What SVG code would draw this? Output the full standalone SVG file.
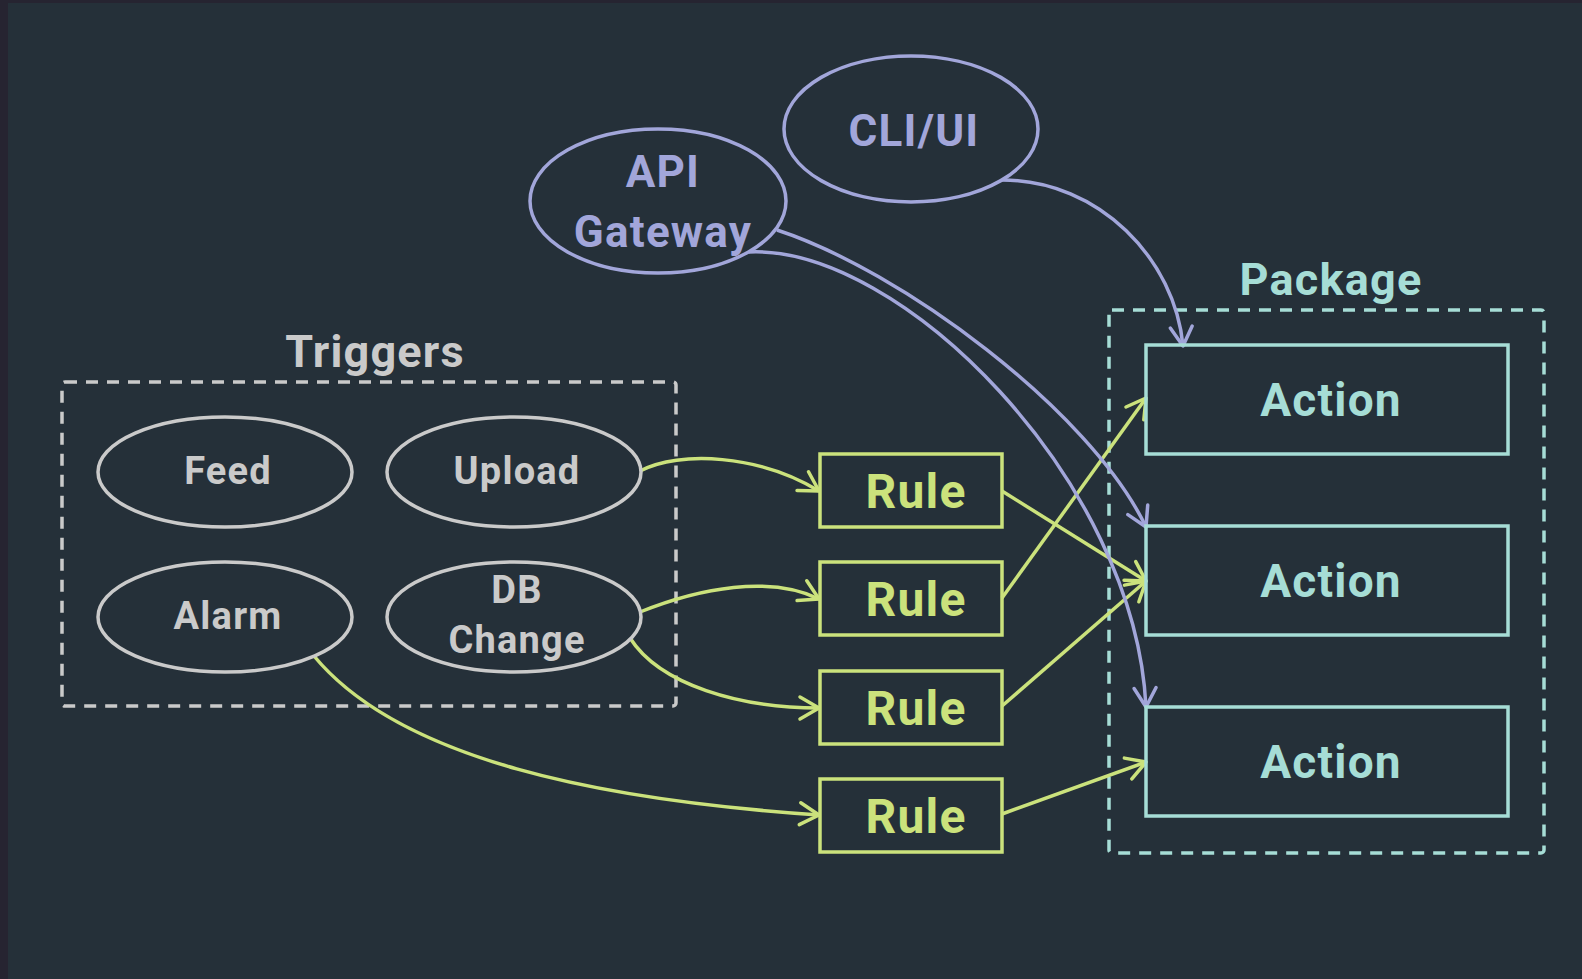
<svg xmlns="http://www.w3.org/2000/svg" width="1582" height="979" viewBox="0 0 1582 979">
  <style>
    .lbl { font-family: Roboto, "Liberation Sans", sans-serif; font-weight: 700; text-anchor: middle; letter-spacing: 1.2px; }
    .trig { fill: none; stroke: #cacaca; stroke-width: 3.5; }
    .trig-t { fill: #cacaca; font-size: 38px; }
    .ent { fill: none; stroke: #a2a6da; stroke-width: 3.5; }
    .ent-t { fill: #a2a6da; font-size: 44px; }
    .rule { fill: none; stroke: #cbe27c; stroke-width: 3.5; }
    .rule-t { fill: #cbe27c; font-size: 48px; }
    .act { fill: none; stroke: #a6ddd6; stroke-width: 3.5; }
    .act-t { fill: #a6ddd6; font-size: 46px; }
    .grp { fill: none; stroke-width: 3.5; stroke-dasharray: 12 9; }
    .g-edge { fill: none; stroke: #cbe27c; stroke-width: 3.5; marker-end: url(#arrG); }
    .p-edge { fill: none; stroke: #a2a6da; stroke-width: 3.5; marker-end: url(#arrP); }
  </style>
  <defs>
    <marker id="arrG" markerUnits="userSpaceOnUse" markerWidth="30" markerHeight="30" viewBox="-22 -15 26 30" refX="0" refY="0" orient="auto">
      <path d="M -19 -11 L 0 0 L -19 11" fill="none" stroke="#cbe27c" stroke-width="3.5" stroke-linecap="round" stroke-linejoin="round"/>
    </marker>
    <marker id="arrP" markerUnits="userSpaceOnUse" markerWidth="30" markerHeight="30" viewBox="-22 -15 26 30" refX="0" refY="0" orient="auto">
      <path d="M -19 -11 L 0 0 L -19 11" fill="none" stroke="#a2a6da" stroke-width="3.5" stroke-linecap="round" stroke-linejoin="round"/>
    </marker>
  </defs>

  <!-- frame and canvas -->
  <rect x="0" y="0" width="1582" height="979" fill="#262431"/>
  <rect x="8" y="3" width="1574" height="976" fill="#253039"/>

  <!-- group containers -->
  <g id="triggers">
    <rect class="grp" x="62" y="382" width="614" height="324" rx="3" stroke="#cacaca"/>
    <text class="lbl" x="375" y="367" fill="#cacaca" font-size="45">Triggers</text>
  </g>
  <g id="package">
    <rect class="grp" x="1109" y="310" width="435" height="543" rx="3" stroke="#a6ddd6"/>
    <text class="lbl" x="1331" y="295" fill="#a6ddd6" font-size="45">Package</text>
  </g>

  <!-- connectors -->
  <g id="connectors">
    <path class="g-edge" d="M 640 471 C 680 450 760 455 819 491"/>
    <path class="g-edge" d="M 640 612 C 700 588 770 575 819 599"/>
    <path class="g-edge" d="M 630 638 C 660 685 740 708 819 708"/>
    <path class="g-edge" d="M 314 656 C 400 760 600 800 819 815"/>
    <path class="g-edge" d="M 1002 491 L 1146 581"/>
    <path class="g-edge" d="M 1002 598 L 1146 398"/>
    <path class="g-edge" d="M 1002 706 L 1146 581"/>
    <path class="g-edge" d="M 1002 814 L 1146 762"/>
    <path class="p-edge" d="M 1002 180 C 1100 180 1175 260 1183 346"/>
    <path class="p-edge" d="M 777 230 C 900 270 1090 410 1146 527"/>
    <path class="p-edge" d="M 749 252 C 900 245 1135 480 1146 707"/>
  </g>

  <!-- entry points -->
  <g id="cli-ui">
    <ellipse class="ent" cx="911" cy="129" rx="127" ry="73"/>
    <text class="lbl ent-t" x="914" y="146">CLI/UI</text>
  </g>
  <g id="api-gateway">
    <ellipse class="ent" cx="658" cy="201" rx="128" ry="72"/>
    <text class="lbl ent-t" x="663" y="187">API</text>
    <text class="lbl ent-t" x="663" y="247">Gateway</text>
  </g>

  <!-- triggers -->
  <g id="feed">
    <ellipse class="trig" cx="225" cy="472" rx="127" ry="55"/>
    <text class="lbl trig-t" x="228" y="484">Feed</text>
  </g>
  <g id="upload">
    <ellipse class="trig" cx="514" cy="472" rx="127" ry="55"/>
    <text class="lbl trig-t" x="517" y="484">Upload</text>
  </g>
  <g id="alarm">
    <ellipse class="trig" cx="225" cy="617" rx="127" ry="55"/>
    <text class="lbl trig-t" x="228" y="629">Alarm</text>
  </g>
  <g id="db-change">
    <ellipse class="trig" cx="514" cy="617" rx="127" ry="55"/>
    <text class="lbl trig-t" x="517" y="603">DB</text>
    <text class="lbl trig-t" x="517" y="653">Change</text>
  </g>

  <!-- rules -->
  <g id="rule-1">
    <rect class="rule" x="820" y="454" width="182" height="73"/>
    <text class="lbl rule-t" x="916" y="508">Rule</text>
  </g>
  <g id="rule-2">
    <rect class="rule" x="820" y="562" width="182" height="73"/>
    <text class="lbl rule-t" x="916" y="616">Rule</text>
  </g>
  <g id="rule-3">
    <rect class="rule" x="820" y="671" width="182" height="73"/>
    <text class="lbl rule-t" x="916" y="725">Rule</text>
  </g>
  <g id="rule-4">
    <rect class="rule" x="820" y="779" width="182" height="73"/>
    <text class="lbl rule-t" x="916" y="833">Rule</text>
  </g>

  <!-- actions -->
  <g id="action-1">
    <rect class="act" x="1146" y="345" width="362" height="109"/>
    <text class="lbl act-t" x="1331" y="416">Action</text>
  </g>
  <g id="action-2">
    <rect class="act" x="1146" y="526" width="362" height="109"/>
    <text class="lbl act-t" x="1331" y="597">Action</text>
  </g>
  <g id="action-3">
    <rect class="act" x="1146" y="707" width="362" height="109"/>
    <text class="lbl act-t" x="1331" y="778">Action</text>
  </g>
</svg>
